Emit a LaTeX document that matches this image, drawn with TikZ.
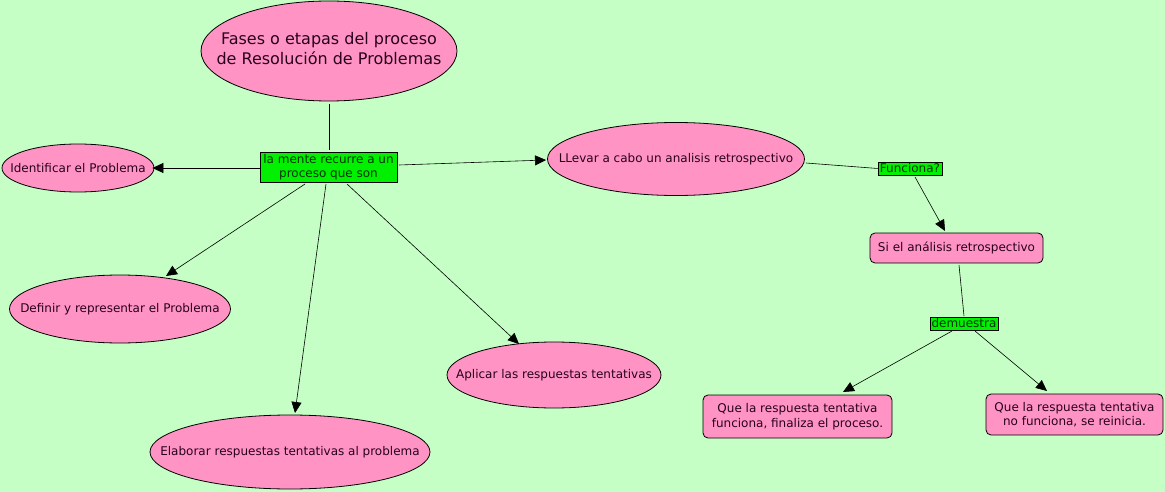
\documentclass[tikz,border=0pt]{standalone}
\usepackage{fontspec}
\setmainfont{DejaVu Sans}
\usetikzlibrary{arrows.meta,shapes.geometric}
\definecolor{bgc}{RGB}{197,255,197}
\definecolor{pinkc}{RGB}{255,148,196}
\definecolor{greenc}{RGB}{0,240,0}
\definecolor{txtc}{RGB}{40,0,30}
\tikzset{
  ell/.style={ellipse,draw=black,fill=pinkc,line width=0.8pt,inner sep=0pt},
  etext/.style={inner sep=0pt,font=\fontsize{12}{14}\selectfont,text=txtc,align=center},
  rbox/.style={rectangle,rounded corners=5pt,draw=black,fill=pinkc,line width=0.8pt,font=\fontsize{12}{14.5}\selectfont,text=txtc,align=center},
  gbox/.style={rectangle,draw=black,fill=greenc,line width=0.6pt,inner sep=0pt,font=\fontsize{12}{14}\selectfont,text=black!80!green,align=center},
  con/.style={draw=black,line width=0.6pt},
  arr/.style={con,-{Triangle[length=11pt,width=10pt]}}
}
\begin{document}
\begin{tikzpicture}[x=1pt,y=-1pt]
\fill[bgc] (0,0) rectangle (1165,492);
\useasboundingbox (0,0) rectangle (1165,492);
\node[ell,minimum width=256pt,minimum height=100pt] (title) at (329,51) {};
\node[etext,font=\fontsize{16}{20}\selectfont] (title-t) at (329,49) {Fases o etapas del proceso\\de Resolución de Problemas};
\node[gbox,minimum width=137pt,minimum height=30pt] (mente) at (328.5,167) {la mente recurre a un\\proceso que son};
\node[ell,minimum width=152pt,minimum height=48pt] (ident) at (78,168) {};
\node[etext] (ident-t) at (ident) {Identificar el Problema};
\node[ell,minimum width=257pt,minimum height=73pt] (llevar) at (676,159) {};
\node[etext] (llevar-t) at (llevar) {LLevar a cabo un analisis retrospectivo};
\node[ell,minimum width=221pt,minimum height=68pt] (definir) at (120,309) {};
\node[etext] (definir-t) at (definir) {Definir y representar el Problema};
\node[ell,minimum width=280pt,minimum height=74pt] (elab) at (290,452) {};
\node[etext] (elab-t) at (elab) {Elaborar respuestas tentativas al problema};
\node[ell,minimum width=214pt,minimum height=66pt] (aplic) at (554,375) {};
\node[etext] (aplic-t) at (aplic) {Aplicar las respuestas tentativas};
\node[gbox,minimum width=64pt,minimum height=13pt] (func) at (910,168.5) {Funciona?};
\node[rbox,minimum width=173pt,minimum height=30pt] (si) at (956.5,248) {Si el análisis retrospectivo};
\node[gbox,minimum width=68pt,minimum height=13pt] (dem) at (964,323.5) {demuestra};
\node[rbox,minimum width=189pt,minimum height=43pt,inner sep=1pt] (fin) at (797.5,416.5) {Que la respuesta tentativa\\funciona, finaliza el proceso.};
\node[rbox,minimum width=177pt,minimum height=41pt,inner sep=1pt] (rein) at (1074.5,414.5) {Que la respuesta tentativa\\no funciona, se reinicia.};
\coordinate (t1) at (329,104);
\coordinate (t2) at (329,150);
\draw[con] (t1) -- (t2);
\draw[arr] (mente.west |- 0,168) -- ([xshift=-2pt]ident.east);
\coordinate (m1) at (399,165);
\coordinate (l1) at (546,160);
\draw[arr] (m1) -- (l1);
\coordinate (m2) at (305,184);
\coordinate (d1) at (166,276);
\draw[arr] (m2) -- (d1);
\coordinate (m3) at (326,184);
\coordinate (e1) at (295,413);
\draw[arr] (m3) -- (e1);
\coordinate (m4) at (347,184);
\coordinate (a1) at (519,344);
\draw[arr] (m4) -- (a1);
\coordinate (lr) at (806,163);
\draw[con] (lr) -- (func.west);
\coordinate (f1) at (915,177);
\coordinate (s1) at (945,231);
\draw[arr] (f1) -- (s1);
\coordinate (s2) at (959,265);
\coordinate (dm1) at (964,316);
\draw[con] (s2) -- (dm1);
\coordinate (dm2) at (952,331);
\coordinate (fi1) at (843,392);
\draw[arr] (dm2) -- (fi1);
\coordinate (dm3) at (975,331);
\coordinate (r1) at (1047,391);
\draw[arr] (dm3) -- (r1);
\end{tikzpicture}
\end{document}
